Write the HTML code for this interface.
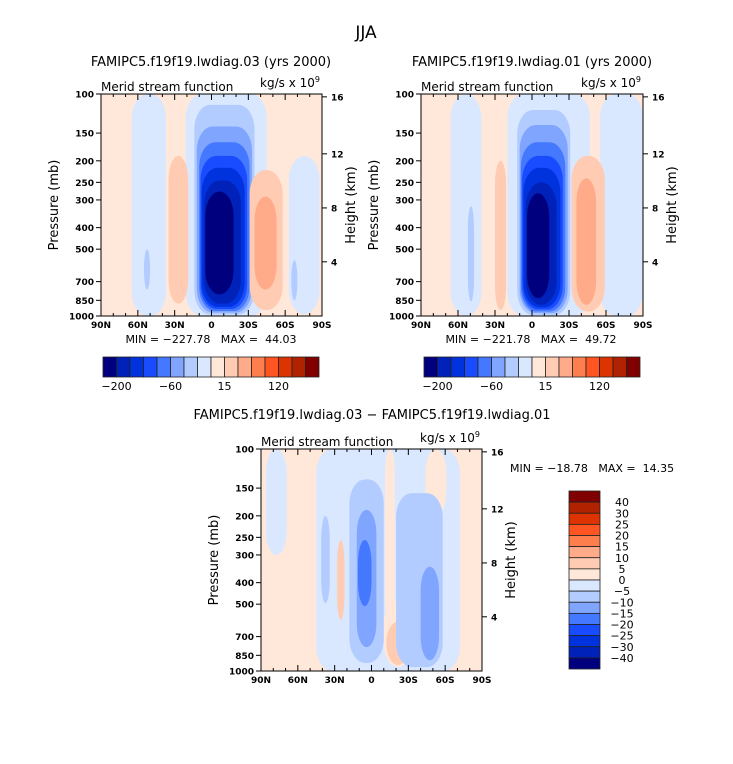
<!DOCTYPE html>
<html><head><meta charset="utf-8"><style>
body{margin:0;background:#fff;}
svg{display:block;font-family:"DejaVu Sans","Liberation Sans",sans-serif;}
.pre{white-space:pre;}
</style></head><body>
<svg id="fig" width="733" height="764" viewBox="0 0 733 764" xmlns="http://www.w3.org/2000/svg">
<text x="366" y="38" font-size="17" text-anchor="middle">JJA</text>
<text x="211" y="66" font-size="13" text-anchor="middle">FAMIPC5.f19f19.lwdiag.03 (yrs 2000)</text>
<text x="532" y="66" font-size="13" text-anchor="middle">FAMIPC5.f19f19.lwdiag.01 (yrs 2000)</text>
<text x="372" y="419" font-size="13" text-anchor="middle">FAMIPC5.f19f19.lwdiag.03 − FAMIPC5.f19f19.lwdiag.01</text>
</svg>
<script>
// ---- data ----
const colors = ["#00007f","#0022b8","#0033dd","#1a4cff","#4478ff","#80a5ff","#b3ccff","#d9e8ff","#ffe8d9","#ffccb3","#ffaa88","#ff7e4d","#ff5522","#dd3300","#b02200","#800000"];
const pressureTicks = [100,150,200,250,300,400,500,700,850,1000];
const heightTicks = [16,12,8,4];
const heightTickPressures = [103,186,326,570];
const latTicks = [90,60,30,0,-30,-60,-90];
const latLabels = ["90N","60N","30N","0","30S","60S","90S"];
const topBarLabels = ["-200","-60","15","120"];
const topBarLabelIdx = [1,5,9,13];
const diffBarLabels = ["40","30","25","20","15","10","5","0","-5","-10","-15","-20","-25","-30","-40"];
// blobs: [latNorth, latSouth, pTop, pBottom, colorIndex]
const blobsLeft = [
 [65,37,100,1000,7],[21,-45,100,1000,7],[-63,-88,190,980,7],
 [35,19,190,880,9],
 [14,-35,112,985,6],[12,-33,140,965,5],[10,-31,165,950,4],[9,-29,190,930,3],[8,-27,215,910,2],[6,-24,245,880,1],[5,-18,275,800,0],
 [-31,-58,220,940,9],[-35,-53,290,760,10],
 [55,50,500,760,6],[-65,-70,560,850,6]
];
const blobsRight = [
 [66,41,100,1000,7],[20,-47,100,1000,7],[-55,-90,100,1000,7],
 [30,21,200,940,9],
 [12,-31,118,990,6],[10,-29,138,970,5],[9,-27,165,955,4],[8,-25,190,935,3],[7,-23,215,915,2],[5,-20,250,890,1],[4,-14,280,830,0],
 [-32,-59,190,955,9],[-36,-52,240,890,10],
 [52,47,320,860,6]
];
const blobsDiff = [
 [86,69,100,300,7],[45,-72,100,1000,7],
 [-11,-19,100,600,8],[-44,-61,100,200,8],[-10,-33,480,960,8],[-12,-31,600,940,9],
 [28,22,257,590,9],
 [41,34,200,495,6],
 [18,-10,137,920,6],[12,-4,188,780,5],[11,0,257,510,4],
 [-20,-58,158,960,6],[-40,-55,339,894,5]
];
const diffMin = "-18.78", diffMax = "14.35";
const leftMin = "-227.78", leftMax = "44.03";
const rightMin = "-221.78", rightMax = "49.72";

const NS="http://www.w3.org/2000/svg";
const svg=document.getElementById('fig');
function mk(tag,attrs,parent){const e=document.createElementNS(NS,tag);for(const k in attrs)e.setAttribute(k,attrs[k]);(parent||svg).appendChild(e);return e;}

function panel(id,x0,y0,w,h,blobs){
  const g=mk('g',{});
  
  
  const xs=lat=>x0+(90-lat)/180*w;
  const ys=p=>y0+Math.log10(p/100)*h;
  const cp=mk('clipPath',{id:'clip-'+id},g);
  mk('rect',{x:x0,y:y0,width:w,height:h},cp);
  const bg=mk('rect',{x:x0,y:y0,width:w,height:h,fill:colors[8]},g);
  
  
  const cg=mk('g',{'clip-path':'url(#clip-'+id+')'},g);
  blobs.forEach(b=>{
    const x1=xs(b[0]),x2=xs(b[1]),y1=ys(b[2]),y2=ys(b[3]);
    const ww=x2-x1,hh=y2-y1;
    const r=mk('rect',{x:x1,y:y1,width:ww,height:hh,rx:Math.min(ww/2,16),ry:Math.min(hh/2,24),fill:colors[b[4]]},cg);
    
    
  });
  mk('rect',{x:x0,y:y0,width:w,height:h,fill:'none',stroke:'#000','stroke-width':1},g);
  pressureTicks.forEach(p=>{
    const y=ys(p);
    mk('line',{x1:x0-5,x2:x0,y1:y,y2:y,stroke:'#000'},g);
    const t=mk('text',{x:x0-7,y:y+3.5,'font-size':9,'font-weight':'bold','text-anchor':'end'},g);
    t.textContent=p;
    
    
  });
  heightTicks.forEach((k,i)=>{
    const y=ys(heightTickPressures[i]);
    mk('line',{x1:x0+w,x2:x0+w+5,y1:y,y2:y,stroke:'#000'},g);
    const t=mk('text',{x:x0+w+9,y:y+3.5,'font-size':9,'font-weight':'bold'},g);
    t.textContent=k;
    
    
  });
  for(let lat=90;lat>=-90;lat-=10){
    const x=xs(lat);const major=lat%30===0;
    mk('line',{x1:x,x2:x,y1:y0+h,y2:y0+h-(major?6:3),stroke:'#000'},g);
    mk('line',{x1:x,x2:x,y1:y0,y2:y0+(major?6:3),stroke:'#000'},g);
  }
  latTicks.forEach((lat,i)=>{
    const t=mk('text',{x:xs(lat),y:y0+h+12,'font-size':9,'font-weight':'bold','text-anchor':'middle'},g);
    t.textContent=latLabels[i];
    
    
  });
  const yt=mk('text',{transform:`translate(${x0-43},${y0+h/2}) rotate(-90)`,'font-size':13,'text-anchor':'middle'},g);
  yt.textContent='Pressure (mb)';
  
  
  const yr=mk('text',{transform:`translate(${x0+w+33},${y0+h/2}) rotate(-90)`,'font-size':13,'text-anchor':'middle'},g);
  yr.textContent='Height (km)';
  
  
  const st=mk('text',{x:x0,y:y0-3,'font-size':12},g);
  st.textContent='Merid stream function';
  
  
  const un=mk('text',{x:x0+w-2,y:y0-7,'font-size':12,'text-anchor':'end'},g);
  un.innerHTML='kg/s x 10<tspan font-size="8" dy="-5">9</tspan>';
  
  
  return {xs,ys};
}

function hbar(id,x0,y0,w,h){
  const g=mk('g',{});
  
  
  const bw=w/colors.length;
  colors.forEach((c,i)=>{
    const r=mk('rect',{x:x0+i*bw,y:y0,width:bw,height:h,fill:c,stroke:'#222','stroke-width':0.8},g);
    
    
  });
  topBarLabels.forEach((l,i)=>{
    const t=mk('text',{x:x0+topBarLabelIdx[i]*bw,y:y0+h+13,'font-size':11,'text-anchor':'middle'},g);
    t.textContent=l.replace('-','−');
    
    
  });
}

function minmax(x,y,mn,mx,anchor){
  const t=mk('text',{x:x,y:y,'font-size':11,'text-anchor':anchor||'middle','class':'pre'});
  t.textContent='MIN = '+mn.replace('-','−')+'   MAX =  '+mx;
  
  
}

panel('left',101,94,221,222,blobsLeft);
hbar('left',103,357,216,20);
minmax(211,343,leftMin,leftMax);
panel('right',421,94,222,222,blobsRight);
hbar('right',424,357,216,20);
minmax(531,343,rightMin,rightMax);
panel('diff',261,449,221,222,blobsDiff);
minmax(510,472,diffMin,diffMax,'start');

(function(){
  const g=mk('g',{});
  
  
  const x0=569,y0=491,w=31,h=178,bh=h/colors.length;
  colors.slice().reverse().forEach((c,i)=>{
    const r=mk('rect',{x:x0,y:y0+i*bh,width:w,height:bh,fill:c,stroke:'#222','stroke-width':0.8},g);
    
    
  });
  diffBarLabels.forEach((l,i)=>{
    const t=mk('text',{x:x0+w+22,y:y0+(i+1)*bh+4,'font-size':11,'text-anchor':'middle'},g);
    t.textContent=l.replace('-','−');
    
    
  });
})();
</script>
</body></html>
